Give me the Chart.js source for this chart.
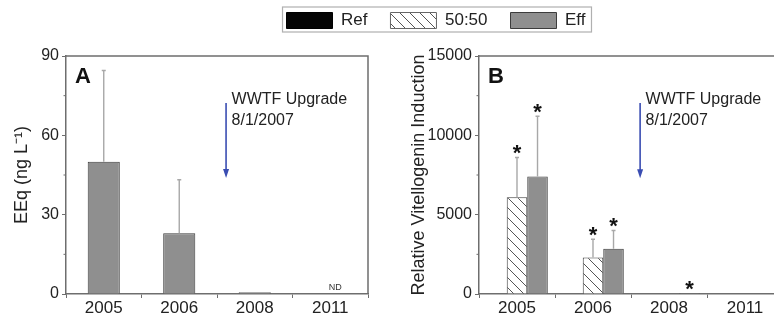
<!DOCTYPE html>
<html>
<head>
<meta charset="utf-8">
<script src="https://cdn.jsdelivr.net/npm/chart.js@4.4.1/dist/chart.umd.min.js"></script>
<style>
  html, body { margin: 0; padding: 0; background: #fff; overflow: hidden; }
  #wrap { position: relative; width: 774px; height: 321px; overflow: hidden; background: #fff; }
  #wrap canvas { position: absolute; }
  #panelA { left: 0; top: 0; width: 380px; height: 321px; }
  #panelB { left: 380px; top: 0; width: 420px; height: 321px; }
  #legendBar { left: 236px; top: -11px; width: 400px; height: 140px; pointer-events: none; }
</style>
</head>
<body>
<div id="wrap">
  <canvas id="panelA" width="380" height="321"></canvas>
  <canvas id="panelB" width="420" height="321"></canvas>
  <canvas id="legendBar" width="400" height="140"></canvas>
</div>
<script>
// ---- data -------------------------------------------------------------
const years = ['2005', '2006', '2008', '2011'];
const seriesNames = ['Ref', '50:50', 'Eff'];

// Panel A: estrogen equivalents in effluent, ng/L (mean and upper SD)
const eeqEff   = [50, 23, 0.7, null];
const eeqEffSd = [34.5, 20.2, 0, null];
const eeqNotes = [null, null, null, 'ND'];

// Panel B: relative vitellogenin induction
const vtgRef    = [null, null, null, null];
const vtgMix    = [6100, 2300, null, null];
const vtgMixSd  = [2500, 1150, null, null];
const vtgMixSig = [true, true, false, false];
const vtgEff    = [7400, 2850, 60, null];
const vtgEffSd  = [3800, 1150, 0, null];
const vtgEffSig = [true, true, true, false];

// axis ranges
const eeqMax = 90, eeqStep = 30;
const vtgMax = 15000, vtgStep = 5000;

// ---- styles -----------------------------------------------------------
const FONT = "'Liberation Sans', Arial, Helvetica, sans-serif";
const TEXT = '#222';
const AXIS = '#6e6e6e';
const EFF_FILL = '#8f8f8f';
const BAR_EDGE = '#3c3c3c';
const ARROW = '#3a4db2';

function hatchPattern() {
  const s = 10;
  const c = document.createElement('canvas');
  c.width = s; c.height = s;
  const g = c.getContext('2d');
  g.fillStyle = '#fff';
  g.fillRect(0, 0, s, s);
  g.strokeStyle = '#555';
  g.lineWidth = 1;
  g.beginPath();
  g.moveTo(0, 0); g.lineTo(s, s);
  g.moveTo(-2, s - 2); g.lineTo(2, s + 2);
  g.moveTo(s - 2, -2); g.lineTo(s + 2, 2);
  g.stroke();
  return document.createElement('canvas').getContext('2d').createPattern(c, 'repeat');
}
const HATCH = hatchPattern();

// ---- plugins ----------------------------------------------------------
// Upper error whiskers, significance stars and "not detected" notes
const errorBars = {
  id: 'errorBars',
  afterDatasetsDraw(chart) {
    const ctx = chart.ctx;
    const xS = chart.scales.x, yS = chart.scales.y;
    chart.data.datasets.forEach((ds, di) => {
      const meta = chart.getDatasetMeta(di);
      meta.data.forEach((bar, i) => {
        const v = ds.data[i];
        ctx.save();
        if (v != null && ds.errors) {
          const e = ds.errors[i] || 0;
          const top = yS.getPixelForValue(v + e);
          if (e > 0) {
            ctx.strokeStyle = '#a8a8a8';
            ctx.lineWidth = 1.4;
            ctx.beginPath();
            ctx.moveTo(bar.x, bar.y);
            ctx.lineTo(bar.x, top);
            ctx.moveTo(bar.x - 2, top);
            ctx.lineTo(bar.x + 2, top);
            ctx.stroke();
          }
          if (ds.stars && ds.stars[i]) {
            ctx.fillStyle = '#111';
            ctx.font = 'bold 22px ' + FONT;
            ctx.textAlign = 'center';
            ctx.textBaseline = 'alphabetic';
            ctx.fillText('*', bar.x, top + 2.5);
          }
        }
        if (ds.notes && ds.notes[i]) {
          ctx.fillStyle = '#333';
          ctx.font = '9px ' + FONT;
          ctx.textAlign = 'center';
          ctx.textBaseline = 'alphabetic';
          ctx.fillText(ds.notes[i], xS.getPixelForValue(i) + 5, yS.getPixelForValue(0) - 4);
        }
        ctx.restore();
      });
    });
  }
};

// Box frame, minor y ticks, panel letter and the upgrade arrow
const panelDecor = {
  id: 'panelDecor',
  afterDraw(chart, args, opts) {
    const ctx = chart.ctx;
    const a = chart.chartArea;
    const xS = chart.scales.x, yS = chart.scales.y;
    ctx.save();
    // top and right frame
    ctx.strokeStyle = AXIS;
    ctx.lineWidth = 1.5;
    ctx.beginPath();
    ctx.moveTo(a.left, a.top);
    ctx.lineTo(a.right, a.top);
    ctx.lineTo(a.right, a.bottom);
    ctx.stroke();
    // minor ticks halfway between labelled ticks
    ctx.lineWidth = 1;
    const t = yS.ticks;
    ctx.beginPath();
    for (let i = 0; i < t.length - 1; i++) {
      const y = yS.getPixelForValue((t[i].value + t[i + 1].value) / 2);
      ctx.moveTo(a.left, y);
      ctx.lineTo(a.left - 2.5, y);
    }
    ctx.stroke();
    // panel letter
    ctx.fillStyle = '#111';
    ctx.font = 'bold 22px ' + FONT;
    ctx.textAlign = 'left';
    ctx.textBaseline = 'alphabetic';
    ctx.fillText(opts.letter, a.left + 9, a.top + 26.5);
    // upgrade arrow
    const x = xS.getPixelForValue(opts.arrowX);
    const y0 = yS.getPixelForValue(opts.arrowFrom);
    const y1 = yS.getPixelForValue(opts.arrowTo);
    ctx.strokeStyle = ARROW;
    ctx.fillStyle = ARROW;
    ctx.lineWidth = 1.6;
    ctx.beginPath();
    ctx.moveTo(x, y0);
    ctx.lineTo(x, y1 - 7);
    ctx.stroke();
    ctx.beginPath();
    ctx.moveTo(x - 3, y1 - 9);
    ctx.lineTo(x + 3, y1 - 9);
    ctx.lineTo(x, y1);
    ctx.closePath();
    ctx.fill();
    ctx.fillStyle = TEXT;
    ctx.font = '16px ' + FONT;
    ctx.fillText('WWTF Upgrade', x + 5.5, y0 + 1);
    ctx.fillText('8/1/2007', x + 5.5, y0 + 22);
    ctx.restore();
  }
};

function xScale() {
  return {
    type: 'category',
    offset: true,
    grid: { offset: true, drawOnChartArea: false, drawTicks: true, tickLength: 4, color: AXIS, lineWidth: 1 },
    border: { display: true, color: AXIS, width: 1.5 },
    ticks: { color: TEXT, font: { family: FONT, size: 17 }, padding: 0, maxRotation: 0 },
    afterFit(s) { s.height = 27; }
  };
}

function yScale(max, step, title, titlePad, width) {
  return {
    min: 0, max: max,
    grid: { drawOnChartArea: false, drawTicks: true, tickLength: 4, color: AXIS, lineWidth: 1 },
    border: { display: true, color: AXIS, width: 1.5 },
    ticks: { stepSize: step, color: TEXT, font: { family: FONT, size: 16 }, padding: 3,
             callback: (v) => String(v) },
    title: { display: true, text: title, color: TEXT, font: { family: FONT, size: 18 }, padding: { top: titlePad, bottom: 0 } },
    afterFit(s) { s.width = width; }
  };
}

const common = {
  responsive: false,
  animation: false,
  events: [],
  plugins: { legend: { display: false }, tooltip: { enabled: false } }
};

// ---- panel A ----------------------------------------------------------
new Chart(document.getElementById('panelA'), {
  type: 'bar',
  data: {
    labels: years,
    datasets: [{
      label: seriesNames[2], data: eeqEff, errors: eeqEffSd, notes: eeqNotes,
      backgroundColor: EFF_FILL, borderColor: BAR_EDGE, borderWidth: 1,
      categoryPercentage: 0.85, barPercentage: 0.5
    }]
  },
  options: Object.assign({}, common, {
    layout: { padding: { top: 56, right: 12, left: 0, bottom: 0 } },
    scales: {
      x: xScale(),
      y: yScale(eeqMax, eeqStep, 'EEq (ng L\u207B\u00B9)', 11, 66)
    },
    plugins: Object.assign({}, common.plugins, {
      panelDecor: { letter: 'A', arrowX: 1.62, arrowFrom: 72.2, arrowTo: 43.9 }
    })
  }),
  plugins: [errorBars, panelDecor]
});

// ---- panel B ----------------------------------------------------------
new Chart(document.getElementById('panelB'), {
  type: 'bar',
  data: {
    labels: years,
    datasets: [
      { label: seriesNames[0], data: vtgRef, backgroundColor: '#000', borderColor: '#000', borderWidth: 1,
        categoryPercentage: 0.81, barPercentage: 1.0 },
      { label: seriesNames[1], data: vtgMix, errors: vtgMixSd, stars: vtgMixSig,
        backgroundColor: HATCH, borderColor: BAR_EDGE, borderWidth: 1,
        categoryPercentage: 0.81, barPercentage: 1.0 },
      { label: seriesNames[2], data: vtgEff, errors: vtgEffSd, stars: vtgEffSig,
        backgroundColor: EFF_FILL, borderColor: BAR_EDGE, borderWidth: 1,
        categoryPercentage: 0.81, barPercentage: 1.0 }
    ]
  },
  options: Object.assign({}, common, {
    layout: { padding: { top: 56, right: 17, left: 0, bottom: 0 } },
    scales: {
      x: xScale(),
      y: yScale(vtgMax, vtgStep, 'Relative Vitellogenin Induction', 28, 99)
    },
    plugins: Object.assign({}, common.plugins, {
      panelDecor: { letter: 'B', arrowX: 1.62, arrowFrom: 12030, arrowTo: 7300 }
    })
  }),
  plugins: [errorBars, panelDecor]
});

// ---- shared legend ----------------------------------------------------
const legendFrame = {
  id: 'legendFrame',
  afterDraw(chart) {
    const hb = chart.legend.legendHitBoxes;
    if (!hb || !hb.length) return;
    const last = hb[hb.length - 1];
    const ctx = chart.ctx;
    ctx.save();
    ctx.strokeStyle = '#b0b0b0';
    ctx.lineWidth = 1.2;
    const l = hb[0].left - 4, r = last.left + last.width + 6;
    const t = hb[0].top - 5, b = hb[0].top + 20;
    ctx.strokeRect(l, t, r - l, b - t);
    ctx.restore();
  }
};

new Chart(document.getElementById('legendBar'), {
  type: 'bar',
  data: {
    labels: [],
    datasets: [
      { label: seriesNames[0], data: [], backgroundColor: '#050505', borderColor: '#000', borderWidth: 1 },
      { label: seriesNames[1], data: [], backgroundColor: HATCH, borderColor: '#666', borderWidth: 1 },
      { label: seriesNames[2], data: [], backgroundColor: EFF_FILL, borderColor: BAR_EDGE, borderWidth: 1 }
    ]
  },
  options: {
    responsive: false,
    animation: false,
    events: [],
    layout: { padding: 0 },
    scales: { x: { display: false }, y: { display: false } },
    plugins: {
      tooltip: { enabled: false },
      legend: {
        display: true,
        position: 'top',
        labels: { boxWidth: 46, boxHeight: 16, padding: 23, color: TEXT, font: { family: FONT, size: 17 } }
      }
    }
  },
  plugins: [legendFrame]
});
</script>
</body>
</html>
